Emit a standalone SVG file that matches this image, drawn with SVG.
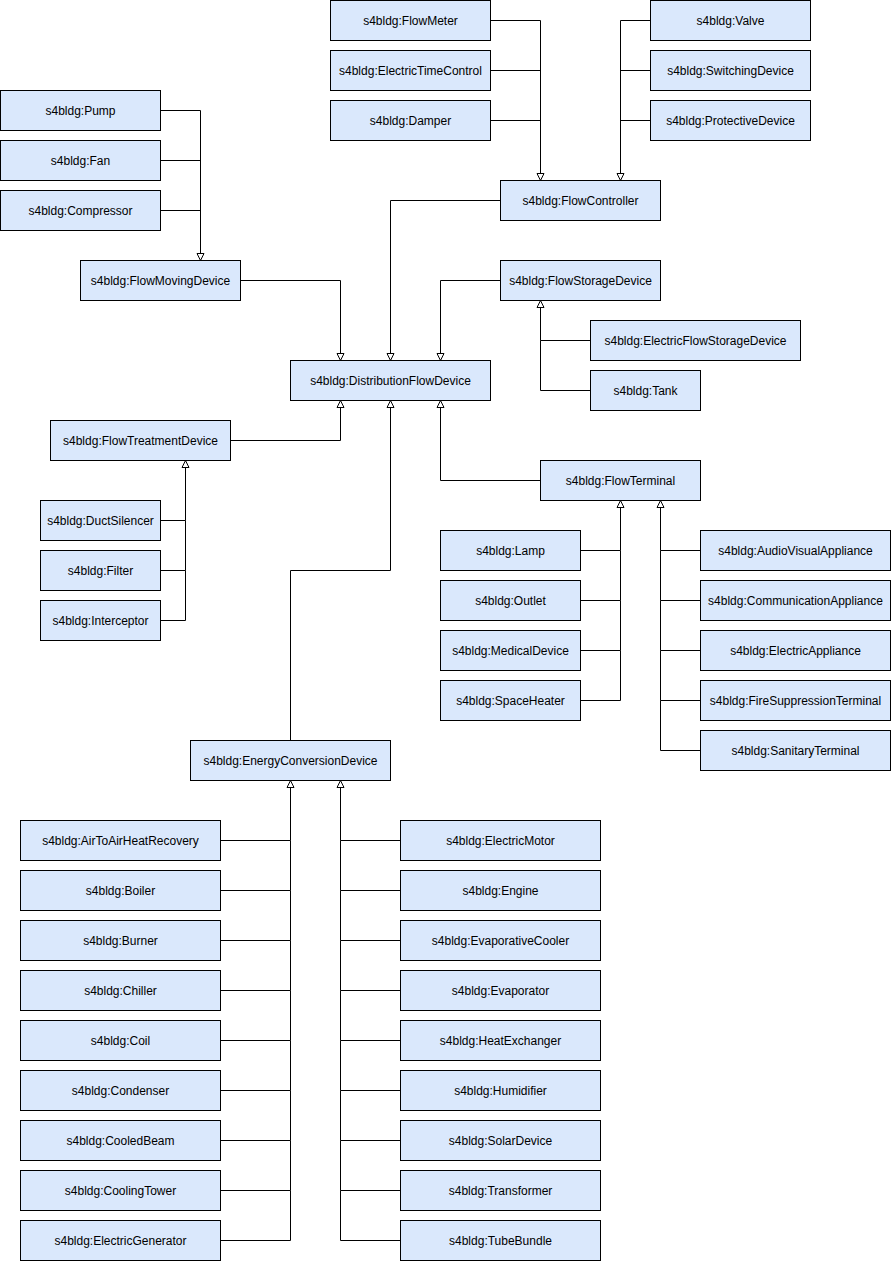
<svg xmlns="http://www.w3.org/2000/svg" width="891" height="1261" viewBox="0 0 891 1261">
<style>
.n rect{fill:#dae8fc;stroke:#000;stroke-width:1}
.n text{font-family:"Liberation Sans",Arial,sans-serif;font-size:12px;fill:#000;text-anchor:middle;dominant-baseline:central}
.c path{fill:none;stroke:#000;stroke-width:1}
.c path.a{marker-end:url(#tri)}
</style>
<defs>
<marker id="tri" markerUnits="userSpaceOnUse" markerWidth="10" markerHeight="10" refX="7" refY="3.5" orient="auto" overflow="visible">
<path d="M0,0 L7,3.5 L0,7 Z" fill="#fff" stroke="#000" stroke-width="1"/>
</marker>
</defs>
<rect width="891" height="1261" fill="#fff"/>
<g transform="translate(0.5,0.5)">
<g class="c" id="connectors">
<path d="M490,20H540V180" class="a"/>
<path d="M490,70H540"/>
<path d="M490,120H540"/>
<path d="M650,20H620V180" class="a"/>
<path d="M650,70H620"/>
<path d="M650,120H620"/>
<path d="M160,110H200V260" class="a"/>
<path d="M160,160H200"/>
<path d="M160,210H200"/>
<path d="M240,280H340V360" class="a"/>
<path d="M500,200H390V360" class="a"/>
<path d="M500,280H440V360" class="a"/>
<path d="M590,340H540V300" class="a"/>
<path d="M590,390H540V340"/>
<path d="M230,440H340V400" class="a"/>
<path d="M290,740V570H390V400" class="a"/>
<path d="M540,480H440V400" class="a"/>
<path d="M160,520H185V460" class="a"/>
<path d="M160,570H185V520"/>
<path d="M160,620H185V570"/>
<path d="M580,550H620V500" class="a"/>
<path d="M580,600H620V550"/>
<path d="M580,650H620V600"/>
<path d="M580,700H620V650"/>
<path d="M700,550H660V500" class="a"/>
<path d="M700,600H660V550"/>
<path d="M700,650H660V600"/>
<path d="M700,700H660V650"/>
<path d="M700,750H660V700"/>
<path d="M220,840H290V780" class="a"/>
<path d="M220,890H290V840"/>
<path d="M220,940H290V890"/>
<path d="M220,990H290V940"/>
<path d="M220,1040H290V990"/>
<path d="M220,1090H290V1040"/>
<path d="M220,1140H290V1090"/>
<path d="M220,1190H290V1140"/>
<path d="M220,1240H290V1190"/>
<path d="M400,840H340V780" class="a"/>
<path d="M400,890H340V840"/>
<path d="M400,940H340V890"/>
<path d="M400,990H340V940"/>
<path d="M400,1040H340V990"/>
<path d="M400,1090H340V1040"/>
<path d="M400,1140H340V1090"/>
<path d="M400,1190H340V1140"/>
<path d="M400,1240H340V1190"/>
</g>
<g class="n" id="FlowMeter"><rect x="330" y="0" width="160" height="40"/><text x="410" y="20">s4bldg:FlowMeter</text></g>
<g class="n" id="ElectricTimeControl"><rect x="330" y="50" width="160" height="40"/><text x="410" y="70">s4bldg:ElectricTimeControl</text></g>
<g class="n" id="Damper"><rect x="330" y="100" width="160" height="40"/><text x="410" y="120">s4bldg:Damper</text></g>
<g class="n" id="Valve"><rect x="650" y="0" width="160" height="40"/><text x="730" y="20">s4bldg:Valve</text></g>
<g class="n" id="SwitchingDevice"><rect x="650" y="50" width="160" height="40"/><text x="730" y="70">s4bldg:SwitchingDevice</text></g>
<g class="n" id="ProtectiveDevice"><rect x="650" y="100" width="160" height="40"/><text x="730" y="120">s4bldg:ProtectiveDevice</text></g>
<g class="n" id="FlowController"><rect x="500" y="180" width="160" height="40"/><text x="580" y="200">s4bldg:FlowController</text></g>
<g class="n" id="Pump"><rect x="0" y="90" width="160" height="40"/><text x="80" y="110">s4bldg:Pump</text></g>
<g class="n" id="Fan"><rect x="0" y="140" width="160" height="40"/><text x="80" y="160">s4bldg:Fan</text></g>
<g class="n" id="Compressor"><rect x="0" y="190" width="160" height="40"/><text x="80" y="210">s4bldg:Compressor</text></g>
<g class="n" id="FlowMovingDevice"><rect x="80" y="260" width="160" height="40"/><text x="160" y="280">s4bldg:FlowMovingDevice</text></g>
<g class="n" id="FlowStorageDevice"><rect x="500" y="260" width="160" height="40"/><text x="580" y="280">s4bldg:FlowStorageDevice</text></g>
<g class="n" id="ElectricFlowStorageDevice"><rect x="590" y="320" width="210" height="40"/><text x="695" y="340">s4bldg:ElectricFlowStorageDevice</text></g>
<g class="n" id="Tank"><rect x="590" y="370" width="110" height="40"/><text x="645" y="390">s4bldg:Tank</text></g>
<g class="n" id="DistributionFlowDevice"><rect x="290" y="360" width="200" height="40"/><text x="390" y="380">s4bldg:DistributionFlowDevice</text></g>
<g class="n" id="FlowTreatmentDevice"><rect x="50" y="420" width="180" height="40"/><text x="140" y="440">s4bldg:FlowTreatmentDevice</text></g>
<g class="n" id="DuctSilencer"><rect x="40" y="500" width="120" height="40"/><text x="100" y="520">s4bldg:DuctSilencer</text></g>
<g class="n" id="Filter"><rect x="40" y="550" width="120" height="40"/><text x="100" y="570">s4bldg:Filter</text></g>
<g class="n" id="Interceptor"><rect x="40" y="600" width="120" height="40"/><text x="100" y="620">s4bldg:Interceptor</text></g>
<g class="n" id="FlowTerminal"><rect x="540" y="460" width="160" height="40"/><text x="620" y="480">s4bldg:FlowTerminal</text></g>
<g class="n" id="Lamp"><rect x="440" y="530" width="140" height="40"/><text x="510" y="550">s4bldg:Lamp</text></g>
<g class="n" id="Outlet"><rect x="440" y="580" width="140" height="40"/><text x="510" y="600">s4bldg:Outlet</text></g>
<g class="n" id="MedicalDevice"><rect x="440" y="630" width="140" height="40"/><text x="510" y="650">s4bldg:MedicalDevice</text></g>
<g class="n" id="SpaceHeater"><rect x="440" y="680" width="140" height="40"/><text x="510" y="700">s4bldg:SpaceHeater</text></g>
<g class="n" id="AudioVisualAppliance"><rect x="700" y="530" width="190" height="40"/><text x="795" y="550">s4bldg:AudioVisualAppliance</text></g>
<g class="n" id="CommunicationAppliance"><rect x="700" y="580" width="190" height="40"/><text x="795" y="600">s4bldg:CommunicationAppliance</text></g>
<g class="n" id="ElectricAppliance"><rect x="700" y="630" width="190" height="40"/><text x="795" y="650">s4bldg:ElectricAppliance</text></g>
<g class="n" id="FireSuppressionTerminal"><rect x="700" y="680" width="190" height="40"/><text x="795" y="700">s4bldg:FireSuppressionTerminal</text></g>
<g class="n" id="SanitaryTerminal"><rect x="700" y="730" width="190" height="40"/><text x="795" y="750">s4bldg:SanitaryTerminal</text></g>
<g class="n" id="EnergyConversionDevice"><rect x="190" y="740" width="200" height="40"/><text x="290" y="760">s4bldg:EnergyConversionDevice</text></g>
<g class="n" id="AirToAirHeatRecovery"><rect x="20" y="820" width="200" height="40"/><text x="120" y="840">s4bldg:AirToAirHeatRecovery</text></g>
<g class="n" id="Boiler"><rect x="20" y="870" width="200" height="40"/><text x="120" y="890">s4bldg:Boiler</text></g>
<g class="n" id="Burner"><rect x="20" y="920" width="200" height="40"/><text x="120" y="940">s4bldg:Burner</text></g>
<g class="n" id="Chiller"><rect x="20" y="970" width="200" height="40"/><text x="120" y="990">s4bldg:Chiller</text></g>
<g class="n" id="Coil"><rect x="20" y="1020" width="200" height="40"/><text x="120" y="1040">s4bldg:Coil</text></g>
<g class="n" id="Condenser"><rect x="20" y="1070" width="200" height="40"/><text x="120" y="1090">s4bldg:Condenser</text></g>
<g class="n" id="CooledBeam"><rect x="20" y="1120" width="200" height="40"/><text x="120" y="1140">s4bldg:CooledBeam</text></g>
<g class="n" id="CoolingTower"><rect x="20" y="1170" width="200" height="40"/><text x="120" y="1190">s4bldg:CoolingTower</text></g>
<g class="n" id="ElectricGenerator"><rect x="20" y="1220" width="200" height="40"/><text x="120" y="1240">s4bldg:ElectricGenerator</text></g>
<g class="n" id="ElectricMotor"><rect x="400" y="820" width="200" height="40"/><text x="500" y="840">s4bldg:ElectricMotor</text></g>
<g class="n" id="Engine"><rect x="400" y="870" width="200" height="40"/><text x="500" y="890">s4bldg:Engine</text></g>
<g class="n" id="EvaporativeCooler"><rect x="400" y="920" width="200" height="40"/><text x="500" y="940">s4bldg:EvaporativeCooler</text></g>
<g class="n" id="Evaporator"><rect x="400" y="970" width="200" height="40"/><text x="500" y="990">s4bldg:Evaporator</text></g>
<g class="n" id="HeatExchanger"><rect x="400" y="1020" width="200" height="40"/><text x="500" y="1040">s4bldg:HeatExchanger</text></g>
<g class="n" id="Humidifier"><rect x="400" y="1070" width="200" height="40"/><text x="500" y="1090">s4bldg:Humidifier</text></g>
<g class="n" id="SolarDevice"><rect x="400" y="1120" width="200" height="40"/><text x="500" y="1140">s4bldg:SolarDevice</text></g>
<g class="n" id="Transformer"><rect x="400" y="1170" width="200" height="40"/><text x="500" y="1190">s4bldg:Transformer</text></g>
<g class="n" id="TubeBundle"><rect x="400" y="1220" width="200" height="40"/><text x="500" y="1240">s4bldg:TubeBundle</text></g>
</g>
</svg>
